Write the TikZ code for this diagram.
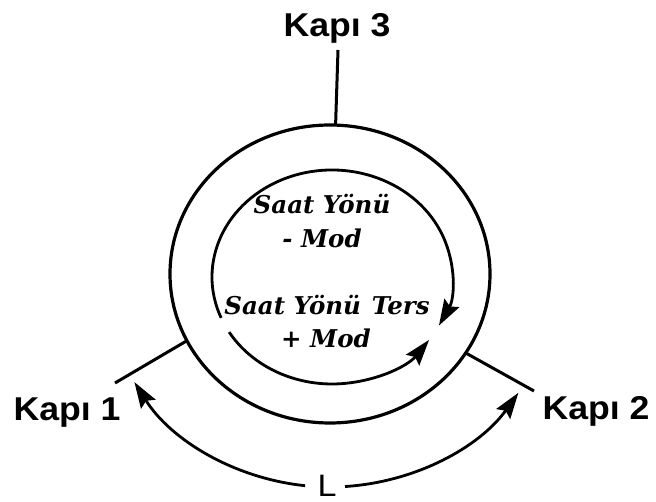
\documentclass[tikz,border=0pt]{standalone}
\usepackage{fontspec}
\setmainfont{Liberation Serif}
\setsansfont{Liberation Sans}
\newfontfamily\modefont{DejaVu Serif}
\usetikzlibrary{arrows.meta,calc}

\begin{document}
\begin{tikzpicture}[x=1pt,y=1pt,
  port/.style={font=\sffamily\bfseries\fontsize{33}{36}\selectfont,
    xscale=1.08, anchor=base, inner sep=0pt},
  mode/.style={font=\modefont\bfseries\itshape\fontsize{24.5}{28}\selectfont,
    anchor=base, inner sep=0pt},
  span/.style={font=\sffamily\fontsize{31}{34}\selectfont,
    xscale=1.1, inner sep=0pt},
  ring/.style={line width=3.2pt},
  flow/.style={line width=2.8pt},
  lead/.style={line width=3pt},
  headtip/.style={-{Stealth[length=26pt,width=17pt,inset=4pt]}},
]
\useasboundingbox (0,0) rectangle (656,502);

% centres of the outer ring and the inner direction circle
\coordinate (C) at (330,228);
\coordinate (I) at (332,225);

% outer ring
\draw[ring] (C) ellipse [x radius=160, y radius=149];

% port leads
\coordinate (p3) at ($(C)+(88:160 and 149)$);
\coordinate (p3end) at (338,452);
\coordinate (p1) at ($(C)+(206.6:160 and 149)$);
\coordinate (p1end) at (115,119);
\coordinate (p2) at ($(C)+(-32:160 and 149)$);
\coordinate (p2end) at (534,111);
\draw[lead] (p3) -- (p3end);
\draw[lead] (p1) -- (p1end);
\draw[lead] (p2) -- (p2end);

% port labels
\node[port] (k3) at (337,465) {Kapı 3};
\node[port] (k1) at (67,81) {Kapı 1};
\node[port] (k2) at (596,82) {Kapı 2};

% direction arcs inside the ring
\draw[flow,headtip] ($(I)+(202.5:120 and 107)$)
  arc[start angle=202.5, end angle=-27, x radius=120, y radius=107];
\draw[flow,headtip] ($(I)+(-149:120 and 107)$)
  arc[start angle=-149, end angle=-36, x radius=120, y radius=107];

% mode labels
\node[mode] (cw) at (322,288) {Saat Yönü};
\node[mode] (cwm) at (322,254) {- Mod};
\node[mode] (ccw) at (327,187) {Saat Yönü\hspace{0.1em} Ters};
\node[mode] (ccwm) at (326,154) {+ Mod};

% distance L between ports 1 and 2
\node[span] (L) at (327,16) {L};
\draw[flow,headtip] ($(C)+(-96.3:227 and 213)$)
  arc[start angle=-96.3, end angle=-149.5, x radius=227, y radius=213];
\draw[flow,headtip] ($(C)+(-86.2:227 and 213)$)
  arc[start angle=-86.2, end angle=-33.9, x radius=227, y radius=213];
\end{tikzpicture}
\end{document}
